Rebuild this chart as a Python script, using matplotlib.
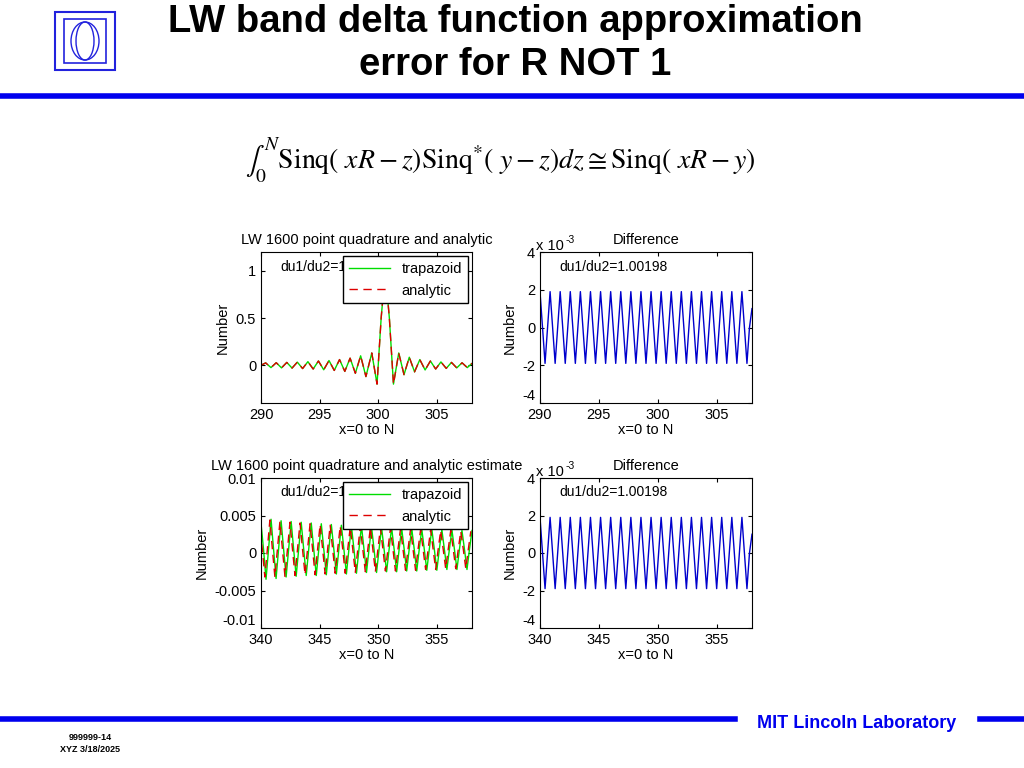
import numpy as np
import matplotlib
matplotlib.use("Agg")
import matplotlib.pyplot as plt
from matplotlib.patches import Rectangle, Ellipse
from matplotlib.lines import Line2D

W, H = 1024, 768

# top-left: extrema of the sinc curve (x, y), main lobe near 300.6
sincX = [290.0, 290.4, 290.85, 291.3, 291.75, 292.2, 292.65, 293.1, 293.55, 294.0,
         294.45, 294.9, 295.35, 295.8, 296.25, 296.7, 297.15, 297.6, 298.05, 298.5,
         298.95, 299.45, 299.9, 300.25, 300.6, 300.95, 301.3, 301.75, 302.2, 302.65,
         303.1, 303.55, 304.0, 304.45, 304.9, 305.35, 305.8, 306.25, 306.7, 307.15,
         307.6, 308.0]
sincY = [0.0, 0.025, -0.025, 0.027, -0.028, 0.03, -0.03, 0.033, -0.035, 0.038,
         -0.04, 0.045, -0.048, 0.05, -0.055, 0.06, -0.065, 0.075, -0.085, 0.1,
         -0.12, 0.13, -0.2, 0.5, 1.0, 0.5, -0.2, 0.13, -0.1, 0.085,
         -0.07, 0.06, -0.05, 0.045, -0.04, 0.035, -0.033, 0.03, -0.028, 0.026,
         -0.025, 0.02]

# difference panels (units of 1e-3), quarter-period samples
diffTop = [1.9, 0, -1.9, 0, 1.9, 0, -1.9, 0, 1.9, 0, -1.9, 0, 1.9, 0, -1.9, 0,
           1.9, 0, -1.9, 0, 1.9, 0, -1.9, 0, 1.9, 0, -1.9, 0, 1.9, 0, -1.9, 0,
           1.9, 0, -1.9, 0, 1.9, 0, -1.9, 0, 1.9, 0, -1.9, 0, 1.9, 0, -1.9, 0,
           1.9, 0, -1.9, 0, 1.9, 0, -1.9, 0, 1.9, 0, -1.9, 0, 1.9, 0, -1.9, 0,
           1.9, 0, -1.9, 0, 1.9, 0, -1.9, 0, 1.9, 0, -1.9, 0, 1.9, 0, -1.9, 0,
           1.9, 0, -1.9, 0, 1.0]
diffBot = [1.9, 0, -1.9, 0, 1.9, 0, -1.9, 0, 1.9, 0, -1.9, 0, 1.9, 0, -1.9, 0,
           1.9, 0, -1.9, 0, 1.9, 0, -1.9, 0, 1.9, 0, -1.9, 0, 1.9, 0, -1.9, 0,
           1.9, 0, -1.9, 0, 1.9, 0, -1.9, 0, 1.9, 0, -1.9, 0, 1.9, 0, -1.9, 0,
           1.9, 0, -1.9, 0, 1.9, 0, -1.9, 0, 1.9, 0, -1.9, 0, 1.9, 0, -1.9, 0,
           1.9, 0, -1.9, 0, 1.9, 0, -1.9, 0, 1.9, 0, -1.9, 0, 1.9, 0, -1.9, 0,
           1.9, 0, -1.9, 0, 1.0]

# bottom-left estimate, quarter-period samples
trapBot = [0.004, 0.0005, -0.0035, 0.0005, 0.0045, 0.0005, -0.0034, 0.0005,
           0.0043, 0.0005, -0.0032, 0.0005, 0.0042, 0.0005, -0.0031, 0.0005,
           0.0041, 0.0005, -0.003, 0.0005, 0.004, 0.0005, -0.003, 0.0005,
           0.0039, 0.0005, -0.0029, 0.0005, 0.0038, 0.0005, -0.0028, 0.0005,
           0.0037, 0.0005, -0.0028, 0.0005, 0.0036, 0.0005, -0.0027, 0.0005,
           0.0036, 0.0005, -0.0026, 0.0005, 0.0035, 0.0005, -0.0026, 0.0005,
           0.0034, 0.0005, -0.0025, 0.0005, 0.0034, 0.0005, -0.0025, 0.0005,
           0.0033, 0.0005, -0.0024, 0.0005, 0.0033, 0.0005, -0.0024, 0.0005,
           0.0032, 0.0005, -0.0023, 0.0005, 0.0032, 0.0005, -0.0023, 0.0005,
           0.0031, 0.0005, -0.0022, 0.0005, 0.0031, 0.0005, -0.0022, 0.0005,
           0.003, 0.0005, -0.0022, 0.0005, 0.003]
anaBot = [0.003, 0.0005, -0.0032, 0.0005, 0.0044, 0.0005, -0.0032, 0.0005,
          0.0042, 0.0005, -0.0031, 0.0005, 0.0041, 0.0005, -0.003, 0.0005,
          0.004, 0.0005, -0.0029, 0.0005, 0.0039, 0.0005, -0.0029, 0.0005,
          0.0038, 0.0005, -0.0028, 0.0005, 0.0037, 0.0005, -0.0027, 0.0005,
          0.0036, 0.0005, -0.0027, 0.0005, 0.0035, 0.0005, -0.0026, 0.0005,
          0.0035, 0.0005, -0.0025, 0.0005, 0.0034, 0.0005, -0.0025, 0.0005,
          0.0033, 0.0005, -0.0024, 0.0005, 0.0033, 0.0005, -0.0024, 0.0005,
          0.0032, 0.0005, -0.0023, 0.0005, 0.0032, 0.0005, -0.0023, 0.0005,
          0.0031, 0.0005, -0.0022, 0.0005, 0.0031, 0.0005, -0.0022, 0.0005,
          0.003, 0.0005, -0.0021, 0.0005, 0.003, 0.0005, -0.0021, 0.0005,
          0.0029, 0.0005, -0.0021, 0.0005, 0.0029]

plt.rcParams["font.family"] = "Liberation Sans"
plt.rcParams["axes.unicode_minus"] = False
plt.rcParams["mathtext.fontset"] = "stix"
fig = plt.figure(figsize=(W / 100, H / 100), dpi=100)


def axbox(x0, y0, x1, y1):
    return fig.add_axes([x0 / W, 1 - y1 / H, (x1 - x0) / W, (y1 - y0) / H])


def style(ax):
    ax.tick_params(direction="in", labelsize=10.5, top=True, right=True, length=3)
    ax.set_xlabel("x=0 to N", fontsize=10.5, labelpad=1)
    ax.set_ylabel("Number", fontsize=10.5)


# top-left
ax = axbox(261, 252, 472, 403)
ax.plot(sincX, sincY, color="#00dd00", lw=1, label="trapazoid")
ax.plot(sincX, sincY, color="#dd0000", lw=1, dashes=(6, 4), label="analytic")
ax.set_xlim(290, 308)
ax.set_ylim(-0.4, 1.2)
ax.set_xticks([290, 295, 300, 305])
ax.set_yticks([0, 0.5, 1])
ax.set_yticklabels(["0", "0.5", "1"])
ax.text(0.09, 0.95, "du1/du2=1.00198", transform=ax.transAxes, fontsize=10, va="top")
ax.legend(loc="upper right", fontsize=10.5, fancybox=False, framealpha=1,
          edgecolor="black", borderaxespad=0.3, handlelength=2.8)
ax.set_title("LW 1600 point quadrature and analytic", fontsize=10.5)
style(ax)

# bottom-left
ax = axbox(261, 478, 472, 628)
xb = np.linspace(340, 358, len(trapBot))
ax.plot(xb, trapBot, color="#00dd00", lw=1, label="trapazoid")
ax.plot(np.linspace(340, 358, len(anaBot)) - 0.1, anaBot, color="#dd0000", lw=1,
        dashes=(6, 4), label="analytic")
ax.set_xlim(340, 358)
ax.set_ylim(-0.01, 0.01)
ax.set_xticks([340, 345, 350, 355])
ax.set_yticks([-0.01, -0.005, 0, 0.005, 0.01])
ax.set_yticklabels(["-0.01", "-0.005", "0", "0.005", "0.01"])
ax.get_yticklabels()[0].set_va("bottom")
ax.text(0.09, 0.95, "du1/du2=1.00198", transform=ax.transAxes, fontsize=10, va="top")
ax.legend(loc="upper right", fontsize=10.5, fancybox=False, framealpha=1,
          edgecolor="black", borderaxespad=0.3, handlelength=2.8)
ax.set_title("LW 1600 point quadrature and analytic estimate", fontsize=10.5)
style(ax)

# right panels
for (y0, y1, data, lo) in [(252, 403, diffTop, 290), (478, 628, diffBot, 340)]:
    ax = axbox(540, y0, 752, y1)
    ax.plot(np.linspace(lo, lo + 18, len(data)), data, color="#0000cc", lw=1)
    ax.set_xlim(lo, lo + 18)
    ax.set_ylim(-4, 4)
    ax.set_xticks([lo, lo + 5, lo + 10, lo + 15])
    ax.set_yticks([-4, -2, 0, 2, 4])
    ax.set_yticklabels(["-4", "-2", "0", "2", "4"])
    ax.get_yticklabels()[0].set_va("bottom")
    ax.text(0.09, 0.95, "du1/du2=1.00198", transform=ax.transAxes, fontsize=10, va="top")
    ax.set_title("Difference", fontsize=10.5)
    ax.text(-0.02, 1.01, "x 10", transform=ax.transAxes, fontsize=10.5)
    ax.text(0.12, 1.06, "-3", transform=ax.transAxes, fontsize=7.5)
    style(ax)

# slide decoration
fig.text(515 / W, 1 - 22 / H, "LW band delta function approximation",
         ha="center", va="center", fontsize=27.5, fontweight="bold")
fig.text(515 / W, 1 - 65 / H, "error for R NOT 1",
         ha="center", va="center", fontsize=27.5, fontweight="bold")
fig.add_artist(Line2D([0, 1], [1 - 96 / H] * 2, color="#0000ee", lw=4))
fig.add_artist(Rectangle((55 / W, 1 - 70 / H), 60 / W, 58 / H, fill=False,
                         edgecolor="#2222dd", lw=1.5))
fig.add_artist(Rectangle((64 / W, 1 - 63 / H), 42 / W, 44 / H, fill=False,
                         edgecolor="#2222dd", lw=1.2))
fig.add_artist(Ellipse((85 / W, 1 - 41 / H), 28 / W, 38 / H, fill=False,
                       edgecolor="#2222dd", lw=1))
fig.add_artist(Ellipse((85 / W, 1 - 41 / H), 18 / W, 38 / H, fill=False,
                       edgecolor="#2222dd", lw=1))
fig.text(500 / W, 1 - 160 / H,
         r"$\int_0^{N}\mathrm{Sinq}(\ xR - z)\mathrm{Sinq}^{*}(\ y - z)dz \cong \mathrm{Sinq}(\ xR - y)$",
         ha="center", va="center", fontsize=20)
fig.add_artist(Line2D([0, 735 / W], [1 - 719 / H] * 2, color="#0000ee", lw=4))
fig.add_artist(Line2D([980 / W, 1], [1 - 719 / H] * 2, color="#0000ee", lw=4))
fig.text(857 / W, 1 - 723 / H, "MIT Lincoln Laboratory", ha="center", va="center",
         fontsize=13, fontweight="bold", color="#0000ee")
fig.text(90 / W, 1 - 738 / H, "999999-14", ha="center", va="center", fontsize=6.5,
         fontweight="bold")
fig.text(90 / W, 1 - 750 / H, "XYZ 3/18/2025", ha="center", va="center", fontsize=6.5,
         fontweight="bold")

fig.savefig("out.png", dpi=100)
